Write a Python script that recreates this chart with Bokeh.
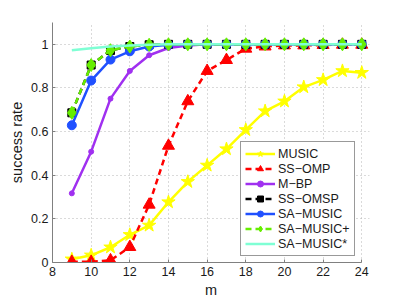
from bokeh.plotting import figure
from bokeh.models import Range1d, FixedTicker, Legend, LegendItem, ColumnDataSource
from bokeh.embed import file_html
from bokeh.resources import INLINE

m = [9, 10, 11, 12, 13, 14, 15, 16, 17, 18, 19, 20, 21, 22, 23, 24]

music = [0.015, 0.033, 0.07, 0.127, 0.17, 0.277, 0.37, 0.445, 0.52, 0.608, 0.694, 0.739, 0.804, 0.837, 0.878, 0.87]
ss_omp = [0.003, 0.003, 0.01, 0.071, 0.265, 0.535, 0.739, 0.878, 0.928, 0.98, 0.99, 0.995, 0.995, 0.997, 0.998, 0.998]
m_bp = [0.317, 0.508, 0.751, 0.878, 0.95, 0.983, 0.995, 1.0, 1.0, 1.0, 1.0, 1.0, 1.0, 1.0, 1.0, 1.0]
ss_omsp = [0.686, 0.905, 0.972, 0.99, 0.998, 1.0, 1.0, 1.0, 1.0, 1.0, 1.0, 1.0, 1.0, 1.0, 1.0, 1.0]
sa_music = [0.629, 0.834, 0.93, 0.968, 0.99, 0.998, 1.0, 1.0, 1.0, 1.0, 1.0, 1.0, 1.0, 1.0, 1.0, 1.0]
sa_music_plus = [0.686, 0.905, 0.973, 0.99, 0.998, 1.0, 1.0, 1.0, 1.0, 1.0, 1.0, 1.0, 1.0, 1.0, 1.0, 1.0]
sa_music_star = [0.973, 0.982, 0.99, 0.995, 0.998, 1.0, 1.0, 1.0, 1.0, 1.0, 1.0, 1.0, 1.0, 1.0, 1.0, 1.0]

x_ticks = [8, 10, 12, 14, 16, 18, 20, 22, 24]
y_ticks = [0, 0.2, 0.4, 0.6, 0.8, 1.0]
y_tick_labels = {0: "0", 0.2: "0.2", 0.4: "0.4", 0.6: "0.6", 0.8: "0.8", 1.0: "1"}

FONT = "Liberation Sans"

p = figure(width=398, height=300, output_backend="svg", toolbar_location=None,
           x_range=Range1d(8, 24.4), y_range=Range1d(0, 1.1),
           min_border_left=52, min_border_right=29, min_border_top=22, min_border_bottom=35)
p.outline_line_color = None
p.background_fill_color = "white"

for ax in (p.xaxis[0], p.yaxis[0]):
    ax.axis_line_color = "#808080"
    ax.axis_line_width = 1
    ax.major_tick_line_color = "#808080"
    ax.major_tick_in = 3
    ax.major_tick_out = 0
    ax.minor_tick_line_color = None
    ax.major_label_text_font = FONT
    ax.major_label_text_font_size = "12.5px"
    ax.major_label_text_color = "#1a1a1a"
    ax.axis_label_text_font = FONT
    ax.axis_label_text_font_size = "14.5px"
    ax.axis_label_text_font_style = "normal"
    ax.axis_label_text_color = "#1a1a1a"
    ax.major_label_standoff = 4
    ax.axis_label_standoff = 3

p.xaxis[0].ticker = FixedTicker(ticks=x_ticks)
p.xaxis[0].bounds = (8, 24)
p.xaxis[0].axis_label = "m"
p.yaxis[0].ticker = FixedTicker(ticks=y_ticks)
p.yaxis[0].bounds = (0, 1.1)
p.yaxis[0].major_label_overrides = y_tick_labels
p.yaxis[0].axis_label = "success rate"

for g in (p.xgrid[0], p.ygrid[0]):
    g.grid_line_color = "#b4b4b4"
    g.grid_line_dash = "1 3"
    g.grid_line_width = 1

src = ColumnDataSource(dict(m=m, music=music, ss_omp=ss_omp, m_bp=m_bp, ss_omsp=ss_omsp,
                            sa_music=sa_music, sa_music_plus=sa_music_plus, sa_music_star=sa_music_star))

items = []

l = p.line("m", "music", source=src, color="#ffff00", line_width=2.5)
s = p.scatter("m", "music", source=src, marker="star", size=14, fill_color="#ffff00", line_color="#ffff00")
items.append(LegendItem(label="MUSIC", renderers=[l, s]))

l = p.line("m", "ss_omp", source=src, color="#ff0000", line_width=2.5, line_dash="6 4")
s = p.scatter("m", "ss_omp", source=src, marker="triangle", size=12, fill_color="#ff0000", line_color="#ff0000")
items.append(LegendItem(label="SS\u2212OMP", renderers=[l, s]))

l = p.line("m", "m_bp", source=src, color="#a030f0", line_width=2.5)
s = p.scatter("m", "m_bp", source=src, marker="circle", size=5, fill_color="#a030f0", line_color="#a030f0")
items.append(LegendItem(label="M\u2212BP", renderers=[l, s]))

l = p.line("m", "ss_omsp", source=src, color="#000000", line_width=2.5, line_dash="6 4")
s = p.scatter("m", "ss_omsp", source=src, marker="square", size=8, fill_color="#000000", line_color="#000000")
items.append(LegendItem(label="SS\u2212OMSP", renderers=[l, s]))

l = p.line("m", "sa_music", source=src, color="#2050ff", line_width=2.5)
s = p.scatter("m", "sa_music", source=src, marker="circle", size=9, fill_color="#2050ff", line_color="#2050ff")
items.append(LegendItem(label="SA\u2212MUSIC", renderers=[l, s]))

l = p.line("m", "sa_music_plus", source=src, color="#66ee00", line_width=2.5, line_dash="6 4")
s = p.scatter("m", "sa_music_plus", source=src, marker="diamond", size=13, fill_color="#66ee00", line_color="#66ee00")
items.append(LegendItem(label="SA\u2212MUSIC+", renderers=[l, s]))

l = p.line("m", "sa_music_star", source=src, color="#7fffd4", line_width=2.5)
items.append(LegendItem(label="SA\u2212MUSIC*", renderers=[l]))

legend = Legend(items=items, location=(188, 6),
                glyph_width=30, glyph_height=15, label_height=15, spacing=0, padding=4,
                label_standoff=3, margin=0,
                label_text_font=FONT, label_text_font_size="12.5px", label_text_color="#1a1a1a",
                border_line_color="#333333", border_line_width=1,
                background_fill_color="white", background_fill_alpha=1)
p.add_layout(legend, "center")

open("out.html", "w").write(file_html(p, INLINE))
